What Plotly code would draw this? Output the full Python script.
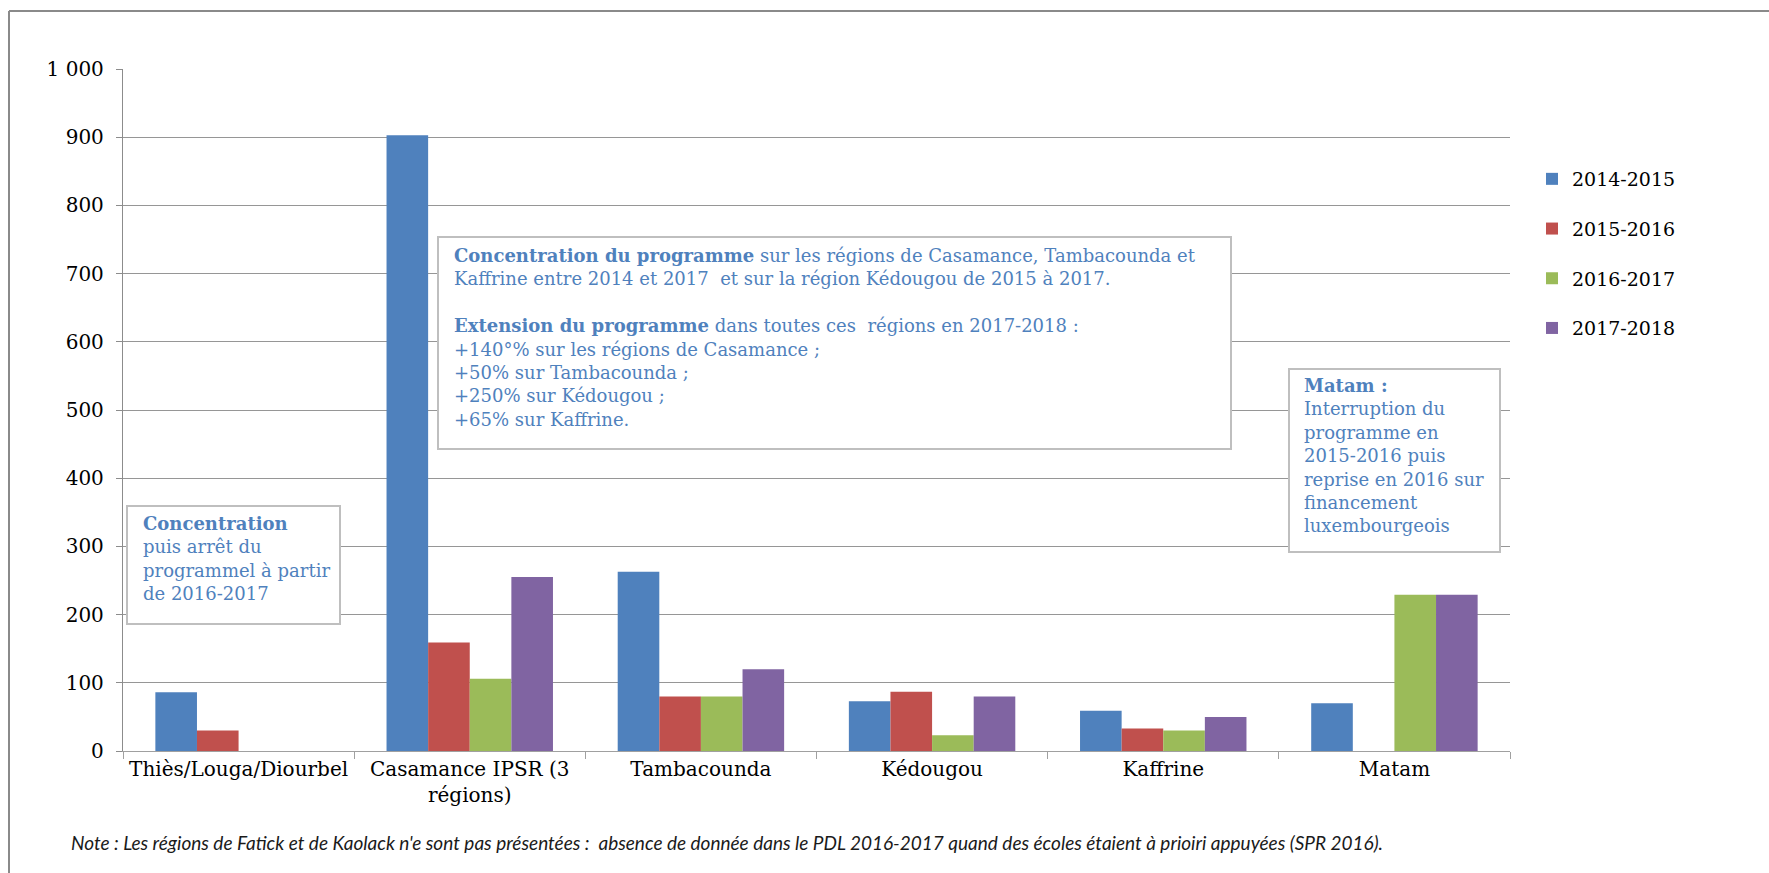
import plotly.graph_objects as go

# ---------------- data ----------------
categories = ["Thiès/Louga/Diourbel", "Casamance IPSR (3<br>régions)", "Tambacounda",
              "Kédougou", "Kaffrine", "Matam"]
series_names = ["2014-2015", "2015-2016", "2016-2017", "2017-2018"]
v_2014_2015 = [86, 903, 263, 73, 59, 70]
v_2015_2016 = [30, 159, 80, 87, 33, None]
v_2016_2017 = [None, 106, 80, 23, 30, 229]
v_2017_2018 = [None, 255, 120, 80, 50, 229]
series_values = [v_2014_2015, v_2015_2016, v_2016_2017, v_2017_2018]
colors = ["#4F81BD", "#C0504D", "#9BBB59", "#8064A2"]
y_tickvals = [0, 100, 200, 300, 400, 500, 600, 700, 800, 900, 1000]
y_ticktext = ["0", "100", "200", "300", "400", "500", "600", "700", "800", "900", "1 000"]

# ---------------- geometry ----------------
W, H = 1769, 873
L, R, T, B = 123, 1510, 69, 751
pw, ph = R - L, B - T


def px(x):
    return (x - L) / pw


def py(y):
    return (B - y) / ph


SERIF = "DejaVu Serif"
BLUE_TXT = "#4F81BD"

fig = go.Figure()
for name, vals, col in zip(series_names, series_values, colors):
    fig.add_trace(go.Bar(
        x=categories, y=vals, name=name, marker_color=col,
        marker_line_width=0, legendgroup=name,
    ))

fig.update_layout(
    width=W, height=H,
    margin=dict(l=L, r=W - R, t=T, b=H - B, pad=0),
    paper_bgcolor="white", plot_bgcolor="white",
    barmode="group", bargap=0.28, bargroupgap=0,
    font=dict(family=SERIF, size=20, color="#000000"),
    showlegend=True,
    legend=dict(
        x=px(1532), y=py(160), xanchor="left", yanchor="top",
        font=dict(family=SERIF, size=19, color="#000000"),
        tracegroupgap=22, bgcolor="rgba(0,0,0,0)",
    ),
    xaxis=dict(
        showline=True, linecolor="#a0a0a0", linewidth=1.3,
        ticks="outside", tickson="boundaries", ticklen=7, tickcolor="#a0a0a0",
        tickfont=dict(family=SERIF, size=20, color="#000000"),
        showgrid=False,
    ),
    yaxis=dict(
        range=[0, 1000], tickvals=y_tickvals, ticktext=y_ticktext,
        showline=True, linecolor="#8c8c8c", linewidth=1.3,
        ticks="outside", ticklen=6, tickcolor="#8c8c8c",
        showgrid=True, gridcolor="#969696", gridwidth=1.3,
        tickfont=dict(family=SERIF, size=20, color="#000000"),
        ticklabelstandoff=8, zeroline=False,
    ),
)

shapes = []
# outer frame (only top and left visible)
shapes.append(dict(type="line", xref="paper", yref="paper",
                   x0=px(9), y0=py(880), x1=px(9), y1=py(11),
                   line=dict(color="#8a8a8a", width=2)))
shapes.append(dict(type="line", xref="paper", yref="paper",
                   x0=px(9), y0=py(11), x1=px(1775), y1=py(11),
                   line=dict(color="#8a8a8a", width=2)))

boxes = [(127, 506, 340, 624), (438, 237, 1231, 449), (1289, 369, 1500, 552)]
for (x0, y0, x1, y1) in boxes:
    shapes.append(dict(type="rect", xref="paper", yref="paper", layer="above",
                       x0=px(x0), y0=py(y1), x1=px(x1), y1=py(y0),
                       fillcolor="white", line=dict(color="#bfbfbf", width=2)))
fig.update_layout(shapes=shapes)

box1_text = ("<b>Concentration</b><br>puis arrêt du<br>programmel à partir<br>de 2016-2017")
box2_text = ("<b>Concentration du programme</b> sur les régions de Casamance, Tambacounda et<br>"
             "Kaffrine entre 2014 et 2017  et sur la région Kédougou de 2015 à 2017.<br>"
             " <br>"
             "<b>Extension du programme</b> dans toutes ces  régions en 2017-2018 :<br>"
             "+140°% sur les régions de Casamance ;<br>"
             "+50% sur Tambacounda ;<br>"
             "+250% sur Kédougou ;<br>"
             "+65% sur Kaffrine.")
box3_text = ("<b>Matam :</b><br>Interruption du<br>programme en<br>2015-2016 puis<br>"
             "reprise en 2016 sur<br>financement<br>luxembourgeois")

annotations = [
    dict(text=box1_text, x=px(141), y=py(511), xanchor="left", yanchor="top"),
    dict(text=box2_text, x=px(452), y=py(243), xanchor="left", yanchor="top"),
    dict(text=box3_text, x=px(1302), y=py(373), xanchor="left", yanchor="top"),
]
for a in annotations:
    a.update(xref="paper", yref="paper", showarrow=False, align="left",
             font=dict(family=SERIF, size=18, color=BLUE_TXT))

note = ("<i>Note : Les régions de Fatick et de Kaolack n'e sont pas présentées :  absence de donnée "
        "dans le PDL 2016-2017 quand des écoles étaient à prioiri appuyées (SPR 2016).</i>")
annotations.append(dict(text=note, xref="paper", yref="paper", x=px(69), y=py(843),
                        xanchor="left", yanchor="middle", showarrow=False,
                        font=dict(family="Lato", size=19, color="#1a1a1a")))
fig.update_layout(annotations=annotations)

fig.write_html("out.html")
